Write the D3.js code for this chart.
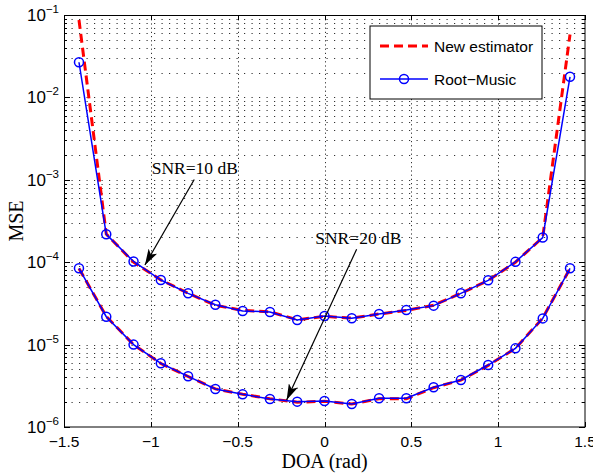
<!DOCTYPE html>
<html>
<head>
<meta charset="utf-8">
<script src="https://cdn.jsdelivr.net/npm/d3@7"></script>
<style>
  body { margin: 0; background: #fff; }
  svg { display: block; }
</style>
</head>
<body>
<div id="chart"></div>
<script>
// DOA grid: k*pi/20, k = -9..9
const doaSteps = [-9, -8, -7, -6, -5, -4, -3, -2, -1, 0, 1, 2, 3, 4, 5, 6, 7, 8, 9];

// SNR = 10 dB
const rootMusic10 = [2.67e-2, 2.18e-4, 1.02e-4, 6.08e-5, 4.19e-5, 3.05e-5, 2.56e-5, 2.49e-5, 1.99e-5, 2.22e-5,
                     2.09e-5, 2.35e-5, 2.63e-5, 2.97e-5, 4.19e-5, 6.03e-5, 1.01e-4, 1.99e-4, 1.78e-2];
const newEst10 = [8.7e-2, 2.2e-4, 1.0e-4, 6.1e-5, 4.2e-5, 3.0e-5, 2.6e-5, 2.5e-5, 2.0e-5, 2.2e-5,
                  2.1e-5, 2.35e-5, 2.6e-5, 3.0e-5, 4.2e-5, 6.0e-5, 1.0e-4, 2.0e-4, 5.8e-2];

// SNR = 20 dB
const rootMusic20 = [8.43e-5, 2.18e-5, 1.0e-5, 5.93e-6, 4.12e-6, 2.89e-6, 2.49e-6, 2.19e-6, 2.03e-6, 2.07e-6,
                     1.90e-6, 2.23e-6, 2.23e-6, 3.03e-6, 3.72e-6, 5.65e-6, 9.0e-6, 2.08e-5, 8.43e-5];
const newEst20 = [8.4e-5, 2.2e-5, 1.0e-5, 5.9e-6, 4.1e-6, 2.9e-6, 2.5e-6, 2.2e-6, 2.0e-6, 2.05e-6,
                  1.9e-6, 2.2e-6, 2.2e-6, 3.0e-6, 3.7e-6, 5.6e-6, 9.0e-6, 2.1e-5, 8.4e-5];

const xTicks = [-1.5, -1, -0.5, 0, 0.5, 1, 1.5];
const yExponents = [-6, -5, -4, -3, -2, -1];

// annotations in data coordinates
const notes = [
  {text: "SNR=10 dB", tx: -0.747, ty: 1.175e-3, x0: -0.750, y0: 1.01e-3, x1: -1.034, y1: 9.25e-5},
  {text: "SNR=20 dB", tx: 0.195, ty: 1.65e-4, x0: 0.185, y0: 1.435e-4, x1: -0.218, y1: 2.13e-6}
];

const W = 593, H = 474;
const margin = {top: 15, right: 8, bottom: 47, left: 64};
const width = W - margin.left - margin.right,
      height = H - margin.top - margin.bottom;

const svg = d3.select("#chart").append("svg")
  .attr("width", W).attr("height", H);

const defs = svg.append("defs");
defs.append("clipPath").attr("id", "clip")
  .append("rect").attr("width", width).attr("height", height);
defs.append("marker")
  .attr("id", "arrow")
  .attr("viewBox", "0 0 16 10")
  .attr("refX", 16).attr("refY", 5)
  .attr("markerWidth", 16).attr("markerHeight", 10)
  .attr("markerUnits", "userSpaceOnUse")
  .attr("orient", "auto")
  .append("path").attr("d", "M0,0 L16,5 L0,10 L4,5 Z").attr("fill", "#000");

const g = svg.append("g").attr("transform", `translate(${margin.left},${margin.top})`);

const x = d3.scaleLinear().domain([-1.5, 1.5]).range([0, width]);
const y = d3.scaleLog().domain([1e-6, 1e-1]).range([height, 0]);

const doa = doaSteps.map(k => k * Math.PI / 20);

// minor y values
const yMinor = [];
yExponents.slice(0, -1).forEach(e => {
  for (let m = 2; m <= 9; m++) yMinor.push(m * Math.pow(10, e));
});
const yMajor = yExponents.map(e => Math.pow(10, e));

// grid
const grid = g.append("g").attr("class", "grid")
  .attr("stroke", "#333").attr("stroke-width", 1).attr("stroke-dasharray", "1.2,6.3");
grid.selectAll(".gy").data(yMinor.concat(yMajor.slice(1, -1)))
  .enter().append("line")
  .attr("x1", 0).attr("x2", width)
  .attr("y1", d => Math.round(y(d)) + 0.5).attr("y2", d => Math.round(y(d)) + 0.5);
grid.selectAll(".gx").data(xTicks.slice(1, -1))
  .enter().append("line")
  .attr("stroke-dasharray", "1.2,3")
  .attr("y1", 0).attr("y2", height)
  .attr("x1", d => Math.round(x(d)) + 0.5).attr("x2", d => Math.round(x(d)) + 0.5);

// axes (MATLAB-like box with inward ticks)
const axisFont = "'Liberation Sans', Arial, sans-serif";
const ticks = g.append("g").attr("stroke", "#000").attr("stroke-width", 1);
xTicks.forEach(t => {
  const px = Math.round(x(t)) + 0.5;
  ticks.append("line").attr("x1", px).attr("x2", px).attr("y1", height).attr("y2", height - 5);
  ticks.append("line").attr("x1", px).attr("x2", px).attr("y1", 0).attr("y2", 5);
});
yMajor.forEach(v => {
  const py = Math.round(y(v)) + 0.5;
  ticks.append("line").attr("x1", 0).attr("x2", 6).attr("y1", py).attr("y2", py);
  ticks.append("line").attr("x1", width).attr("x2", width - 6).attr("y1", py).attr("y2", py);
});
yMinor.forEach(v => {
  const py = Math.round(y(v)) + 0.5;
  ticks.append("line").attr("x1", 0).attr("x2", 3).attr("y1", py).attr("y2", py);
  ticks.append("line").attr("x1", width).attr("x2", width - 3).attr("y1", py).attr("y2", py);
});

g.append("rect").attr("x", 0.5).attr("y", 0.5)
  .attr("width", width - 0.5).attr("height", height - 0.5)
  .attr("fill", "none").attr("stroke", "#000").attr("stroke-width", 1);

// tick labels
g.append("g").selectAll("text").data(xTicks).enter().append("text")
  .attr("x", d => x(d)).attr("y", height + 20)
  .attr("text-anchor", "middle")
  .attr("font-family", axisFont).attr("font-size", 15.5)
  .text(d => d3.format("")(d).replace("-", "\u2212"));

const yl = g.append("g").selectAll("text").data(yExponents).enter().append("text")
  .attr("x", -5).attr("y", d => y(Math.pow(10, d)) + 6)
  .attr("text-anchor", "end")
  .attr("font-family", axisFont).attr("font-size", 17);
yl.append("tspan").text("10");
yl.append("tspan").attr("dy", -8).attr("font-size", 11.5).text(d => "\u2212" + (-d));

// axis titles
const serif = "'Liberation Serif', 'Times New Roman', serif";
g.append("text")
  .attr("x", width / 2).attr("y", height + 41)
  .attr("text-anchor", "middle")
  .attr("font-family", serif).attr("font-size", 20)
  .text("DOA (rad)");
g.append("text")
  .attr("transform", `translate(${-margin.left + 23},${height / 2}) rotate(-90)`)
  .attr("text-anchor", "middle")
  .attr("font-family", serif).attr("font-size", 20)
  .text("MSE");

// series
const plot = g.append("g").attr("clip-path", "url(#clip)");
const line = d3.line().x(d => x(d[0])).y(d => y(d[1]));

function drawSeries(vals) {
  const pts = doa.map((d, i) => [d, vals.new[i]]);
  const rm = doa.map((d, i) => [d, vals.rm[i]]);
  plot.append("path").datum(pts)
    .attr("d", line).attr("fill", "none")
    .attr("stroke", "#ff0000").attr("stroke-width", 3)
    .attr("stroke-dasharray", "9,5");
  plot.append("path").datum(rm)
    .attr("d", line).attr("fill", "none")
    .attr("stroke", "#0000ff").attr("stroke-width", 1.5);
  plot.append("g").selectAll("circle").data(rm).enter().append("circle")
    .attr("cx", d => x(d[0])).attr("cy", d => y(d[1])).attr("r", 4.5)
    .attr("fill", "none").attr("stroke", "#0000ff").attr("stroke-width", 1.5);
}
drawSeries({new: newEst10, rm: rootMusic10});
drawSeries({new: newEst20, rm: rootMusic20});

// annotations
notes.forEach(n => {
  g.append("text")
    .attr("x", x(n.tx)).attr("y", y(n.ty))
    .attr("text-anchor", "middle")
    .attr("font-family", serif).attr("font-size", 17.5)
    .text(n.text);
  g.append("line")
    .attr("x1", x(n.x0)).attr("y1", y(n.y0))
    .attr("x2", x(n.x1)).attr("y2", y(n.y1))
    .attr("stroke", "#000").attr("stroke-width", 1.2)
    .attr("marker-end", "url(#arrow)");
});

// legend
const legend = g.append("g").attr("transform", `translate(${306},${11})`);
legend.append("rect")
  .attr("width", 172).attr("height", 73)
  .attr("fill", "#fff").attr("stroke", "#000").attr("stroke-width", 1);
legend.append("line")
  .attr("x1", 10).attr("x2", 58).attr("y1", 20).attr("y2", 20)
  .attr("stroke", "#ff0000").attr("stroke-width", 3).attr("stroke-dasharray", "9,5");
legend.append("text").attr("x", 64).attr("y", 25.5)
  .attr("font-family", axisFont).attr("font-size", 15.5).text("New estimator");
legend.append("line")
  .attr("x1", 10).attr("x2", 58).attr("y1", 53).attr("y2", 53)
  .attr("stroke", "#0000ff").attr("stroke-width", 1.5);
legend.append("circle").attr("cx", 34).attr("cy", 53).attr("r", 4.5)
  .attr("fill", "none").attr("stroke", "#0000ff").attr("stroke-width", 1.5);
legend.append("text").attr("x", 64).attr("y", 58.5)
  .attr("font-family", axisFont).attr("font-size", 15.5).text("Root\u2212Music");
</script>
</body>
</html>
